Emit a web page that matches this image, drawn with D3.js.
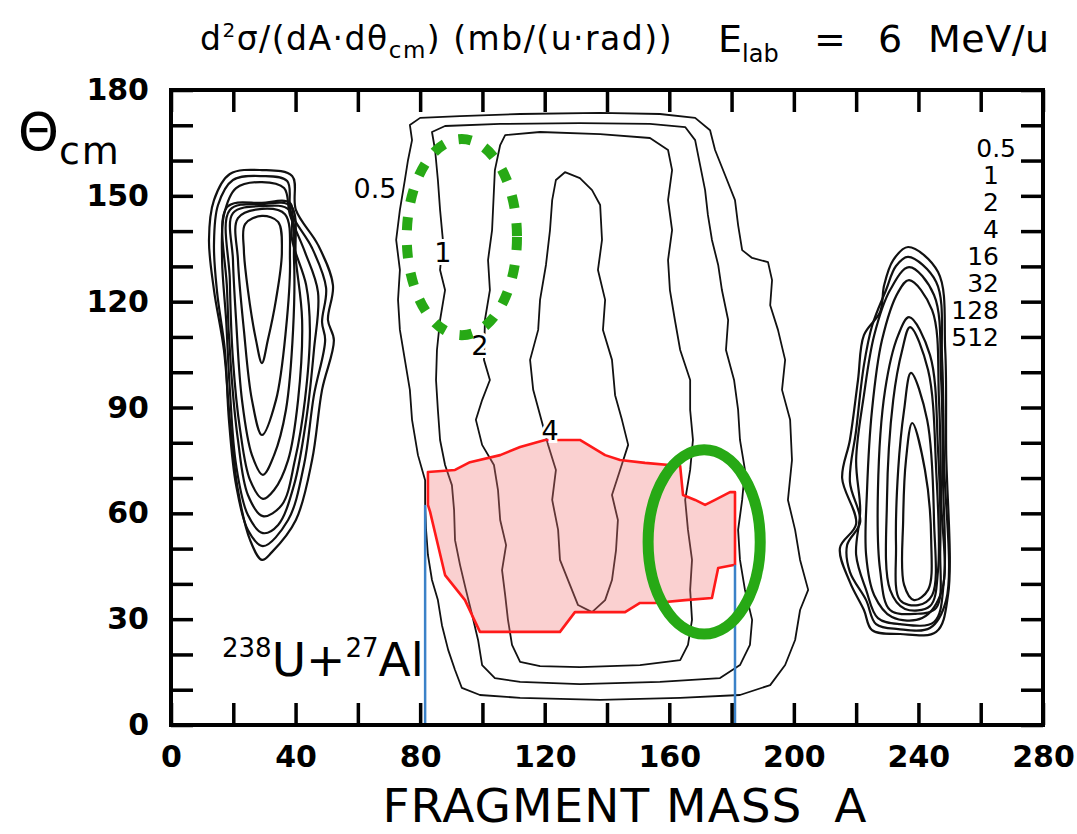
<!DOCTYPE html>
<html>
<head>
<meta charset="utf-8">
<script src="https://cdn.jsdelivr.net/npm/d3@7"></script>
<style>
  body { margin: 0; background: #fff; }
  svg { display: block; }
  text { font-family: "DejaVu Sans", "Liberation Sans", sans-serif; }
</style>
</head>
<body>
<div class="chart"></div>
<script>
// axis values
const xTickVals = [0, 20, 40, 60, 80, 100, 120, 140, 160, 180, 200, 220, 240, 260, 280]
const xLabels = [0, 40, 80, 120, 160, 200, 240, 280]
const yTickVals = [0, 10, 20, 30, 40, 50, 60, 70, 80, 90, 100, 110, 120, 130, 140, 150, 160, 170, 180]
const yLabels = [0, 30, 60, 90, 120, 150, 180]
const levels = ["0.5", "1", "2", "4", "16", "32", "128", "512"]

// deep-inelastic region contours, [A, theta_cm]
const contour05 = [[77.4,165.8],[76.7,170.1],[80.0,172.1],[92.8,172.6],[112.1,173.2],[137.8,173.5],[157.0,173.2],[168.3,172.1],[173.1,168.6],[174.7,163.0],[177.9,155.9],[181.1,148.8],[182.1,141.7],[183.4,134.6],[186.6,132.4],[191.7,131.2],[193.0,126.1],[192.4,119.0],[194.9,112.0],[197.2,103.5],[196.2,95.0],[198.8,86.5],[199.4,75.1],[198.1,63.8],[200.4,55.3],[202.0,46.8],[204.6,38.3],[202.0,32.6],[200.4,24.1],[197.2,17.0],[192.4,11.3],[182.7,8.5],[163.5,7.7],[137.8,7.1],[112.1,7.7],[99.2,8.5],[93.4,10.5],[91.2,15.6],[89.0,21.3],[87.0,28.3],[85.7,35.4],[83.8,41.1],[82.5,48.2],[81.9,55.3],[81.6,62.4],[81.6,69.4],[79.3,76.5],[77.4,86.5],[76.7,95.0],[75.1,103.5],[73.5,112.0],[72.9,120.5],[73.5,129.0],[72.3,137.5],[73.5,146.0],[75.1,154.5],[76.1,160.1]]
const contour1 = [[84.8,163.0],[83.8,168.1],[88.0,169.8],[105.7,170.4],[131.3,170.6],[153.8,170.4],[165.1,169.5],[168.3,165.8],[169.9,158.7],[171.5,151.6],[172.4,144.6],[173.7,137.5],[175.7,130.4],[176.9,123.3],[178.9,114.8],[178.2,106.3],[180.8,97.8],[182.1,89.3],[182.7,80.8],[184.3,72.3],[183.4,63.8],[182.1,55.3],[182.7,46.8],[184.3,38.3],[186.6,29.8],[185.9,22.7],[182.7,17.0],[176.3,13.3],[157.0,12.2],[131.3,11.6],[112.1,12.2],[104.0,13.3],[99.9,17.0],[98.6,24.1],[96.7,31.2],[94.7,38.3],[92.8,45.4],[91.2,52.4],[90.9,60.9],[90.2,68.0],[88.0,73.7],[86.4,80.8],[85.7,89.3],[85.1,97.8],[85.4,106.3],[86.4,114.8],[88.0,123.3],[86.4,129.0],[87.3,137.5],[86.4,146.0],[85.7,154.5]]
const contour2 = [[105.7,164.4],[107.3,167.2],[118.5,168.1],[137.8,167.5],[153.8,166.4],[159.6,163.0],[160.9,157.3],[159.6,148.8],[160.9,140.3],[159.6,131.8],[160.2,123.3],[161.8,114.8],[163.5,106.3],[166.7,97.8],[166.7,89.3],[167.6,80.8],[166.7,72.3],[165.1,63.8],[166.0,55.3],[167.3,46.8],[166.7,38.3],[167.3,29.8],[166.0,22.7],[163.5,18.4],[150.6,17.0],[131.3,16.4],[118.5,16.7],[112.1,17.9],[109.5,22.7],[108.2,29.8],[107.3,36.8],[106.3,43.9],[107.6,51.0],[105.7,58.1],[105.0,66.6],[103.7,73.7],[99.9,79.4],[97.9,86.5],[99.9,92.1],[102.4,97.8],[100.5,103.5],[100.8,114.8],[102.4,123.3],[101.8,131.8],[103.1,140.3],[104.0,157.3]]
const contour4 = [[126.5,156.7],[131.3,155.0],[135.2,151.6],[137.8,147.4],[138.4,137.5],[137.1,129.0],[139.4,120.5],[138.7,112.0],[141.6,103.5],[142.6,93.5],[144.8,86.5],[146.8,79.4],[144.2,72.3],[141.6,65.2],[143.5,58.1],[142.9,49.6],[141.6,41.1],[139.4,35.4],[135.2,32.0],[130.7,34.0],[128.1,39.7],[124.9,46.8],[124.3,55.3],[122.4,63.8],[123.6,72.3],[121.1,79.4],[118.5,87.9],[116.3,95.0],[115.3,103.5],[117.9,112.0],[118.5,120.5],[120.4,130.4],[121.7,140.3],[122.4,148.8],[123.6,154.5]]

// target-like (left) and projectile-like (right) contour sets, outer to inner
const leftBlob = [
  [[18.9,156.2],[29.2,157.3],[38.9,155.6],[40.1,146.0],[47.2,136.1],[52.0,124.7],[50.4,114.8],[52.3,109.1],[48.5,95.0],[45.3,75.1],[40.1,58.1],[32.4,49.0],[29.2,46.8],[25.4,52.4],[21.5,66.6],[18.9,86.5],[17.0,106.3],[13.8,123.3],[12.2,137.5],[13.8,148.8]],
  [[19.9,154.5],[29.2,155.6],[37.3,154.2],[38.5,145.4],[45.3,135.2],[49.8,123.9],[48.5,114.2],[49.5,109.1],[45.9,93.5],[42.7,73.7],[37.6,58.1],[29.5,50.7],[24.7,55.3],[20.9,68.0],[18.6,86.5],[17.3,106.3],[14.8,122.7],[13.8,136.1],[15.1,147.4]],
  [[20.9,152.2],[29.2,153.9],[36.3,152.2],[38.2,144.6],[43.0,134.1],[47.2,122.7],[45.9,106.3],[43.4,86.5],[39.5,68.0],[34.4,56.7],[29.5,54.4],[24.7,59.5],[20.9,73.7],[18.9,95.0],[17.7,114.8],[16.4,131.8],[17.0,144.6]],
  [[18.0,146.8],[29.2,148.0],[38.2,148.0],[38.9,137.5],[43.4,124.7],[44.6,112.0],[43.0,92.1],[39.8,75.1],[35.6,62.4],[29.5,59.2],[24.7,65.2],[21.5,80.8],[19.3,100.6],[18.0,123.3]],
  [[18.9,146.0],[29.2,147.7],[38.5,147.1],[40.1,131.8],[42.1,114.8],[40.8,92.1],[37.6,75.1],[33.1,66.6],[29.5,64.1],[25.4,69.4],[22.2,83.6],[19.9,103.5],[18.9,126.1]],
  [[19.9,145.1],[29.2,147.1],[37.9,146.0],[39.5,131.8],[39.2,112.0],[36.9,89.3],[33.1,76.5],[29.5,70.9],[26.0,76.5],[22.8,92.1],[20.9,114.8],[19.9,131.8]],
  [[21.5,143.7],[29.2,146.3],[36.6,144.8],[38.2,131.8],[36.9,112.0],[33.7,92.1],[29.2,82.2],[26.0,92.1],[23.4,112.0],[21.5,131.8]],
  [[23.8,142.0],[29.2,144.3],[34.4,142.6],[35.6,134.1],[33.7,120.5],[31.1,109.1],[29.2,102.6],[27.3,109.1],[24.7,123.3],[23.4,134.6]]
]
const rightBlob = [
  [[236.7,135.5],[246.3,128.4],[248.6,106.3],[248.9,77.9],[249.5,36.8],[245.7,26.4],[234.1,25.8],[225.1,26.9],[222.5,32.6],[218.0,40.5],[214.8,50.2],[220.0,57.0],[215.5,70.0],[218.0,80.8],[220.6,97.8],[222.5,110.5],[227.7,117.1],[229.0,124.7],[231.9,131.8]],
  [[236.7,132.7],[245.7,125.6],[247.6,103.5],[248.2,75.1],[248.9,35.4],[243.7,27.5],[233.5,27.2],[226.4,28.6],[223.2,35.4],[218.0,43.4],[217.1,51.0],[221.3,57.5],[218.0,68.9],[220.0,83.6],[222.5,102.0],[225.1,113.1],[229.6,123.3],[232.8,130.1]],
  [[237.0,129.8],[245.0,121.9],[247.3,97.8],[247.9,69.4],[248.2,41.1],[245.0,29.2],[234.1,28.6],[227.0,30.3],[223.2,38.3],[220.0,48.2],[221.3,60.9],[220.0,75.1],[222.5,93.5],[225.8,110.5],[230.9,123.3]],
  [[237.0,126.1],[244.4,117.6],[246.6,92.1],[247.3,63.8],[247.6,38.3],[241.2,30.3],[231.5,30.6],[225.8,36.8],[223.2,48.2],[223.5,66.6],[225.1,89.3],[228.3,109.1],[233.5,122.7]],
  [[237.0,115.6],[243.7,104.9],[246.3,77.9],[247.0,49.6],[245.7,33.2],[239.0,31.5],[230.9,32.6],[227.7,43.9],[227.0,66.6],[229.3,95.0],[233.5,110.5]],
  [[237.3,112.8],[243.1,100.6],[245.7,72.3],[246.3,43.9],[243.7,33.7],[235.7,32.9],[230.9,38.3],[229.9,63.8],[231.9,92.1],[234.8,106.3]],
  [[237.6,99.8],[242.8,86.5],[245.0,58.1],[244.4,36.8],[239.9,34.0],[234.1,35.4],[232.8,51.0],[233.5,72.3],[235.4,89.3]],
  [[238.0,85.6],[242.1,72.3],[244.1,52.4],[243.1,38.3],[238.6,35.4],[235.4,39.7],[235.1,58.1],[236.0,75.1]]
]

// highlighted window (red) and its mass cuts (blue)
const windowRegion = [[82.5,71.7],[91.2,72.3],[96.0,74.5],[105.7,76.5],[112.1,78.8],[120.1,80.8],[131.3,80.8],[139.4,76.5],[144.2,75.1],[152.2,74.3],[163.5,73.4],[164.4,65.2],[168.3,63.8],[171.5,62.4],[174.7,63.8],[179.5,66.0],[181.1,66.0],[181.1,45.4],[175.7,44.5],[173.7,36.0],[165.1,35.4],[155.4,34.6],[150.6,34.6],[145.8,32.0],[129.7,32.0],[124.9,26.4],[99.2,26.4],[94.4,35.4],[88.0,42.5],[83.2,60.4],[82.5,62.4]]
const massCuts = [{a: 81.6, top: 62.4}, {a: 181.1, top: 45.4}]
const marks = [
  {a: 93.4, t: 138.3, ra: 17.7, rt: 27.8, dashed: true},
  {a: 171.2, t: 51.9, ra: 18.0, rt: 26.1, dashed: false}
]
const contourLabels = [
  {text: "0.5", a: 65.5, t: 152.2},
  {text: "1", a: 87.3, t: 133.8},
  {text: "2", a: 99.2, t: 107.7},
  {text: "4", a: 121.7, t: 83.6}
]

const width = 1077
const height = 834
const svg = d3.select(".chart").append("svg").attr("width", width).attr("height", height)

const x = d3.scaleLinear().domain([0, 280]).range([171, 1043])
const y = d3.scaleLinear().domain([0, 180]).range([725, 90])

const closedJag = d3.line().x(d => x(d[0])).y(d => y(d[1])).curve(d3.curveLinearClosed)
const closedSmooth = d3.line().x(d => x(d[0])).y(d => y(d[1])).curve(d3.curveCatmullRomClosed.alpha(0.5))

// middle contours
svg.append("g").selectAll("path")
  .data([contour05, contour1, contour2, contour4])
  .join("path")
  .attr("d", closedJag)
  .attr("fill", "none")
  .attr("stroke", "#111")
  .attr("stroke-width", 1.8)
  .attr("stroke-linejoin", "round")

// blobs
svg.append("g").selectAll("path")
  .data(leftBlob.concat(rightBlob))
  .join("path")
  .attr("d", closedSmooth)
  .attr("fill", "none")
  .attr("stroke", "#111")
  .attr("stroke-width", 2.2)

// red window
svg.append("path")
  .attr("d", closedJag(windowRegion))
  .attr("fill", "rgb(240,120,120)")
  .attr("fill-opacity", 0.35)
  .attr("stroke", "#ff1a1a")
  .attr("stroke-width", 2.6)
  .attr("stroke-linejoin", "round")

svg.append("g").selectAll("line")
  .data(massCuts)
  .join("line")
  .attr("x1", d => x(d.a)).attr("x2", d => x(d.a))
  .attr("y1", d => y(d.top)).attr("y2", y(0))
  .attr("stroke", "#3b82c8")
  .attr("stroke-width", 2.5)

// contour labels with a white gap behind them
svg.append("g").selectAll("text")
  .data(contourLabels)
  .join("text")
  .attr("x", d => x(d.a)).attr("y", d => y(d.t))
  .attr("text-anchor", "middle")
  .attr("dominant-baseline", "central")
  .attr("font-size", 27)
  .attr("stroke", "#fff").attr("stroke-width", 6).attr("paint-order", "stroke")
  .text(d => d.text)

// green annotations
svg.append("g").selectAll("ellipse")
  .data(marks)
  .join("ellipse")
  .attr("cx", d => x(d.a)).attr("cy", d => y(d.t))
  .attr("rx", d => x(d.a + d.ra) - x(d.a))
  .attr("ry", d => y(d.t) - y(d.t + d.rt))
  .attr("fill", "none")
  .attr("stroke", "#27a915")
  .attr("stroke-width", d => d.dashed ? 10 : 11)
  .attr("stroke-dasharray", d => d.dashed ? "13 15" : null)

// frame + ticks on all four sides
const tickLen = -22
const styleAxis = g => {
  g.select(".domain").remove()
  g.selectAll(".tick line").attr("stroke", "#000").attr("stroke-width", 3.5)
  g.selectAll(".tick text").attr("fill", "#000").attr("font-size", 30).attr("font-weight", "bold")
    .attr("font-family", "\"DejaVu Sans\", sans-serif")
}
svg.append("g").attr("transform", "translate(0," + y(0) + ")")
  .call(d3.axisBottom(x).tickValues(xTickVals).tickSizeInner(tickLen).tickSizeOuter(0).tickPadding(21)
    .tickFormat(d => xLabels.includes(d) ? d : ""))
  .call(styleAxis)
svg.append("g").attr("transform", "translate(0," + y(180) + ")")
  .call(d3.axisTop(x).tickValues(xTickVals).tickSizeInner(tickLen).tickSizeOuter(0).tickFormat(""))
  .call(styleAxis)
svg.append("g").attr("transform", "translate(" + x(0) + ",0)")
  .call(d3.axisLeft(y).tickValues(yTickVals).tickSizeInner(tickLen).tickSizeOuter(0).tickPadding(22)
    .tickFormat(d => yLabels.includes(d) ? d : ""))
  .call(styleAxis)
svg.append("g").attr("transform", "translate(" + x(280) + ",0)")
  .call(d3.axisRight(y).tickValues(yTickVals).tickSizeInner(tickLen).tickSizeOuter(0).tickFormat(""))
  .call(styleAxis)

svg.append("rect")
  .attr("x", x(0)).attr("y", y(180))
  .attr("width", x(280) - x(0)).attr("height", y(0) - y(180))
  .attr("fill", "none").attr("stroke", "#000").attr("stroke-width", 4)

// level list on the right
svg.append("g").selectAll("text")
  .data(levels)
  .join("text")
  .attr("x", (d, i) => i === 0 ? 1016 : 999)
  .attr("y", (d, i) => 157 + i * 27)
  .attr("text-anchor", "end")
  .attr("font-size", 25)
  .text(d => d)

// titles
const title = svg.append("text").attr("x", 200).attr("y", 50).attr("font-size", 33).attr("letter-spacing", 1.5)
title.append("tspan").text("d")
title.append("tspan").attr("font-size", 20).attr("dy", -13).text("2")
title.append("tspan").attr("dy", 13).text("σ/(dA·dθ")
title.append("tspan").attr("font-size", 23).attr("dy", 8).text("cm")
title.append("tspan").attr("dy", -8).text(") (mb/(u·rad))")

const energy = svg.append("text").attr("y", 52).attr("font-size", 38)
energy.append("tspan").attr("x", 718).text("E")
energy.append("tspan").attr("font-size", 24).attr("dy", 10).text("lab")
energy.append("tspan").attr("x", 814).attr("dy", -10).text("=")
energy.append("tspan").attr("x", 878).text("6")
energy.append("tspan").attr("x", 928).attr("letter-spacing", 0.5).text("MeV/u")

const yLab = svg.append("text").attr("x", 18).attr("y", 150).attr("font-size", 52)
yLab.append("tspan").text("Θ")
yLab.append("tspan").attr("font-size", 38).attr("dy", 14).attr("letter-spacing", 2).text("cm")

svg.append("text")
  .attr("x", 625).attr("y", 822)
  .attr("text-anchor", "middle")
  .attr("font-size", 47)
  .attr("letter-spacing", 1)
  .attr("xml:space", "preserve")
  .text("FRAGMENT MASS  A")

const reaction = svg.append("text").attr("x", 222).attr("y", 676).attr("font-size", 47)
reaction.append("tspan").attr("font-size", 26).attr("dy", -19).text("238")
reaction.append("tspan").attr("dy", 19).text("U+")
reaction.append("tspan").attr("font-size", 26).attr("dy", -19).text("27")
reaction.append("tspan").attr("dy", 19).text("Al")
</script>
</body>
</html>
